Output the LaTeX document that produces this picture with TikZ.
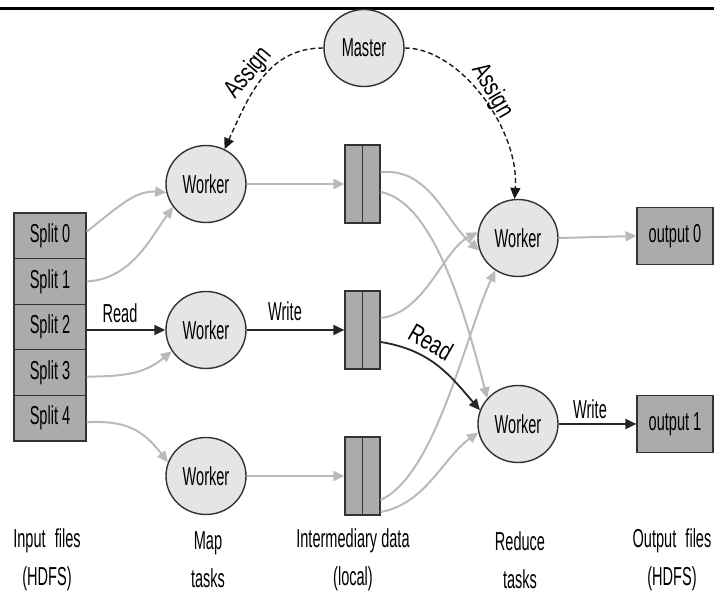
\documentclass[tikz,border=0pt]{standalone}
\usepackage{fontspec}
\setmainfont{Liberation Sans}
\usetikzlibrary{shapes.geometric,arrows.meta}
\newcommand\nar[1]{\scalebox{0.56}[1]{#1}}
\newcommand\rnar[1]{\scalebox{0.74}[1]{#1}}
\begin{document}
\begin{tikzpicture}[x=1pt,y=-1pt,
  font=\fontsize{26}{38}\selectfont,
  worker/.style={ellipse,draw=black!80,line width=1.4pt,fill=black!10,minimum width=80pt,minimum height=77pt,inner sep=0pt},
  splitbox/.style={rectangle,draw=black!80,line width=1.2pt,fill=black!33,minimum width=72pt,minimum height=45.6pt,inner sep=0pt},
  ibox/.style={rectangle,draw=black!80,line width=1.2pt,fill=black!33,minimum width=35pt,minimum height=78pt,inner sep=0pt},
  obox/.style={rectangle,draw=black!80,line width=1.2pt,fill=black!33,minimum width=76pt,minimum height=57pt,inner sep=0pt},
  grayarrow/.style={draw=black!27,line width=2pt,-{Triangle[length=11pt,width=10pt]}},
  blackarrow/.style={draw=black!85,line width=1.8pt,-{Triangle[length=11pt,width=10pt]}},
  dasharrow/.style={draw=black!90,line width=1.4pt,dash pattern=on 5pt off 3pt,-{Triangle[length=11pt,width=10pt]}},
  lbl/.style={inner sep=0pt},
  divline/.style={draw=black!80,line width=1.2pt}
]
\useasboundingbox (0,0) rectangle (716,593);
\draw[line width=3.5pt] (0,8.5) -- (714,8.5);

% nodes
\node[worker] (m) at (364,48) {\nar{Master}};
\node[worker] (w1) at (206,184) {\nar{Worker}};
\node[worker] (w2) at (206,330) {\nar{Worker}};
\node[worker] (w3) at (206,476) {\nar{Worker}};
\node[worker] (r1) at (518,238) {\nar{Worker}};
\node[worker] (r2) at (518,424) {\nar{Worker}};

\node[splitbox] (s0) at (50,235.8) {\nar{Split 0}};
\node[splitbox] (s1) at (50,281.4) {\nar{Split 1}};
\node[splitbox] (s2) at (50,327) {\nar{Split 2}};
\node[splitbox] (s3) at (50,372.6) {\nar{Split 3}};
\node[splitbox] (s4) at (50,418.2) {\nar{Split 4}};

\node[ibox] (b1) at (362.5,184) {};
\node[ibox] (b2) at (362.5,330) {};
\node[ibox] (b3) at (362.5,476) {};
\draw[divline] (b1.north) -- (b1.south);
\draw[divline] (b2.north) -- (b2.south);
\draw[divline] (b3.north) -- (b3.south);

\node[obox] (o0) at (675,236) {\nar{output 0}};
\node[obox] (o1) at (675,424) {\nar{output 1}};

% input -> map
\draw[grayarrow] ([yshift=4pt]s0.east) .. controls +(35,-28) and +(-30,-2) .. (w1.192);
\draw[grayarrow] (s1.east) .. controls +(45,-2) and +(-22,30) .. (w1.215);
\draw[blackarrow] ([yshift=-3pt]s2.east) -- (w2.west);
\draw[grayarrow] ([yshift=-4pt]s3.east) .. controls +(45,0) and +(-25,20) .. (w2.212);
\draw[grayarrow] ([yshift=-4pt]s4.east) .. controls +(40,-2) and +(-25,-32) .. (w3.160);

% map -> intermediate
\draw[grayarrow] (w1.east) -- (b1.west);
\draw[blackarrow] (w2.east) -- (b2.west);
\draw[grayarrow] (w3.east) -- (b3.west);

% intermediate -> reduce
\draw[grayarrow] ([yshift=12pt]b1.east) .. controls +(50,-4) and +(-35,-30) .. (r1.198);
\draw[grayarrow] ([yshift=-8pt]b1.east) .. controls +(55,10) and +(-20,-75) .. (r2.140);
\draw[grayarrow] ([yshift=12pt]b2.east) .. controls +(45,-5) and +(-35,18) .. (r1.172);
\draw[grayarrow] ([yshift=-24pt]b3.east) .. controls +(55,-25) and +(-30,65) .. (r1.235);
\draw[grayarrow] ([yshift=-36pt]b3.east) .. controls +(45,-8) and +(-35,25) .. (r2.192);
\draw[blackarrow] ([yshift=-12pt]b2.east) .. controls +(50,8) and +(-30,-35) .. (r2.160);

% reduce -> output
\draw[grayarrow] (r1.east) -- (o0.west);
\draw[blackarrow] (r2.east) -- (o1.west);

% master assignments
\draw[dasharrow] (m.west) .. controls +(-55,0) and +(25,-55) .. (w1.62);
\draw[dasharrow] (m.east) .. controls +(55,0) and +(5,-70) .. (r1.95);

% labels
\node[lbl] (la1) at (249,73) [rotate=50] {\rnar{Assign}};
\node[lbl] (la2) at (492,91) [rotate=-60] {\rnar{Assign}};
\node[lbl] (lr1) at (120,313) {\nar{Read}};
\node[lbl] (lw1) at (285,311) {\nar{Write}};
\node[lbl] (lr2) at (431,342) [rotate=-30] {\rnar{Read}};
\node[lbl] (lw2) at (590,409) {\nar{Write}};

\node[align=center,inner sep=0pt] (t1) at (47,560) {\nar{Input\hspace{0.35em} files}\\\nar{(HDFS)}};
\node[align=center,inner sep=0pt] (t2) at (208,560) {\nar{Map}\\\nar{tasks}};
\node[align=center,inner sep=0pt] (t3) at (353,560) {\nar{Intermediary data}\\\nar{(local)}};
\node[align=center,inner sep=0pt] (t4) at (520,560) {\nar{Reduce}\\\nar{tasks}};
\node[align=center,inner sep=0pt] (t5) at (672,560) {\nar{Output\hspace{0.35em} files}\\\nar{(HDFS)}};
\end{tikzpicture}
\end{document}
